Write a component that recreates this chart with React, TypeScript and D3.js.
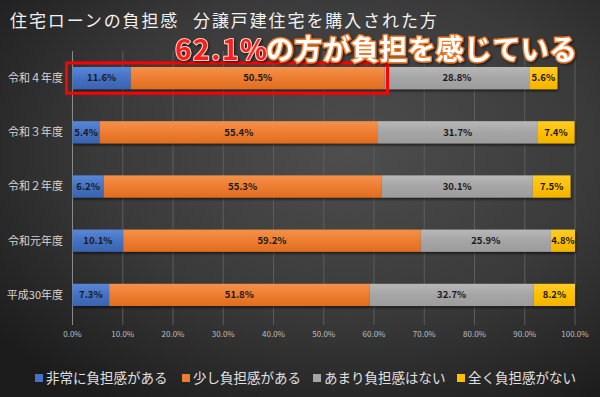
import React from "react";
import * as d3 from "d3";

const categories = ["令和４年度", "令和３年度", "令和２年度", "令和元年度", "平成30年度"];
const seriesNames = ["非常に負担感がある", "少し負担感がある", "あまり負担感はない", "全く負担感がない"];
const veryBurden = [11.6, 5.4, 6.2, 10.1, 7.3];
const someBurden = [50.5, 55.4, 55.3, 59.2, 51.8];
const littleBurden = [28.8, 31.7, 30.1, 25.9, 32.7];
const noBurden = [5.6, 7.4, 7.5, 4.8, 8.2];
const xTicks = [0, 10, 20, 30, 40, 50, 60, 70, 80, 90, 100];
const titleLeft = "住宅ローンの負担感";
const titleRight = "分譲戸建住宅を購入された方";
const calloutNumber = "62.1%";
const calloutRest = "の方が負担を感じている";

const colors = ["#4472c4", "#ed7d31", "#a5a5a5", "#ffc000"];
const colorsLight = ["#5a87d6", "#f5914a", "#b8b8b8", "#ffcc2a"];
const colorsDark = ["#3a63ae", "#e06d1f", "#9c9c9c", "#f0b400"];

const W = 600;
const H = 397;
const FONT = "'Noto Sans CJK JP', 'Noto Sans', sans-serif";

export default function App() {
  const series = [veryBurden, someBurden, littleBurden, noBurden];
  const x = d3.scaleLinear().domain([0, 100]).range([72.5, 575]);
  const y = d3.scaleBand().domain(categories).range([51, 322]).paddingInner(0.59).paddingOuter(0.295);
  const rows = categories.map((c, i) => {
    let acc = 0;
    return series.map((s, k) => {
      const v = s[i];
      const seg = { k, x0: acc, x1: acc + v, v };
      acc += v;
      return seg;
    });
  });
  const bw = y.bandwidth();
  const legendX = [35, 182, 313, 457];

  return (
    <svg width={W} height={H} style={{ position: "absolute", left: 0, top: 0, display: "block" }} fontFamily={FONT}>
      <defs>
        <radialGradient id="bg" cx="0.58" cy="0.38" r="0.75">
          <stop offset="0" stopColor="#4e4e4e" />
          <stop offset="0.55" stopColor="#3a3a3a" />
          <stop offset="1" stopColor="#1c1c1c" />
        </radialGradient>
        {colors.map((c, k) => (
          <linearGradient key={k} id={`g${k}`} x1="0" y1="0" x2="0" y2="1">
            <stop offset="0" stopColor={colorsLight[k]} />
            <stop offset="0.5" stopColor={c} />
            <stop offset="1" stopColor={colorsDark[k]} />
          </linearGradient>
        ))}
        <filter id="sh" x="-5%" y="-20%" width="110%" height="160%">
          <feDropShadow dx="1" dy="2" stdDeviation="1.2" floodColor="#000" floodOpacity="0.55" />
        </filter>
        <filter id="tsh" x="-5%" y="-20%" width="110%" height="160%">
          <feDropShadow dx="1.5" dy="1.5" stdDeviation="0.8" floodColor="#000" floodOpacity="0.5" />
        </filter>
      </defs>
      <rect x={0} y={0} width={W} height={H} fill="url(#bg)" />

      {/* gridlines */}
      {xTicks.slice(1).map((t) => (
        <line key={t} x1={x(t)} x2={x(t)} y1={51} y2={325} stroke="#5c5c5c" strokeWidth={1} />
      ))}
      <line x1={x(0)} x2={x(0)} y1={51} y2={325} stroke="#8a8a8a" strokeWidth={1} />

      {/* bars */}
      {categories.map((c, i) => (
        <g key={c}>
          <g filter="url(#sh)">
            {rows[i].map((s) => (
              <rect key={s.k} x={x(s.x0)} y={y(c)} width={x(s.x1) - x(s.x0)} height={bw} fill={`url(#g${s.k})`} />
            ))}
          </g>
          {rows[i].map((s) => (
            <text
              key={s.k}
              x={(x(s.x0) + x(s.x1)) / 2}
              y={(y(c) as number) + bw / 2}
              dy="0.35em"
              textAnchor="middle"
              fontSize={9.5}
              fontWeight="bold"
              fill="#1a1a1a"
            >
              {s.v.toFixed(1)}%
            </text>
          ))}
          <text
            x={63}
            y={(y(c) as number) + bw / 2}
            dy="0.35em"
            textAnchor="end"
            fontSize={11}
            fill="#d4d4d4"
          >
            {c}
          </text>
        </g>
      ))}

      {/* x tick labels */}
      {xTicks.map((t) => (
        <text key={t} x={x(t)} y={334} dy="0.35em" textAnchor="middle" fontSize={8} fill="#bdbdbd">
          {t.toFixed(1)}%
        </text>
      ))}

      {/* highlight box */}
      <rect
        x={x(0) - 6}
        y={(y(categories[0]) as number) - 4}
        width={x(veryBurden[0] + someBurden[0]) - x(0) + 9}
        height={bw + 8}
        fill="none"
        stroke="#ff0000"
        strokeWidth={3}
      />

      {/* title */}
      <text x={10} y={21} dy="0.35em" fontSize={17} letterSpacing={1.9} fill="#f2f2f2">
        <tspan>{titleLeft}</tspan>
        <tspan x={193}>{titleRight}</tspan>
      </text>

      {/* callout */}
      <text x={175} y={60} fontSize={28} fontWeight="bold" filter="url(#tsh)">
        <tspan fill="#ff1e1e" stroke="#ffd6c8" strokeWidth={2} paintOrder="stroke" strokeLinejoin="round" letterSpacing={1.6}>
          {calloutNumber}
        </tspan>
        <tspan x={266} fill="#ffffff" stroke="#f07a2a" strokeWidth={3} paintOrder="stroke" strokeLinejoin="round" letterSpacing={0.3}>
          {calloutRest}
        </tspan>
      </text>

      {/* legend */}
      {seriesNames.map((n, k) => (
        <g key={n}>
          <rect x={legendX[k]} y={374} width={8} height={8} fill={colors[k]} />
          <text x={legendX[k] + 11} y={378} dy="0.35em" fontSize={13.5} fill="#e0e0e0">
            {n}
          </text>
        </g>
      ))}
    </svg>
  );
}
